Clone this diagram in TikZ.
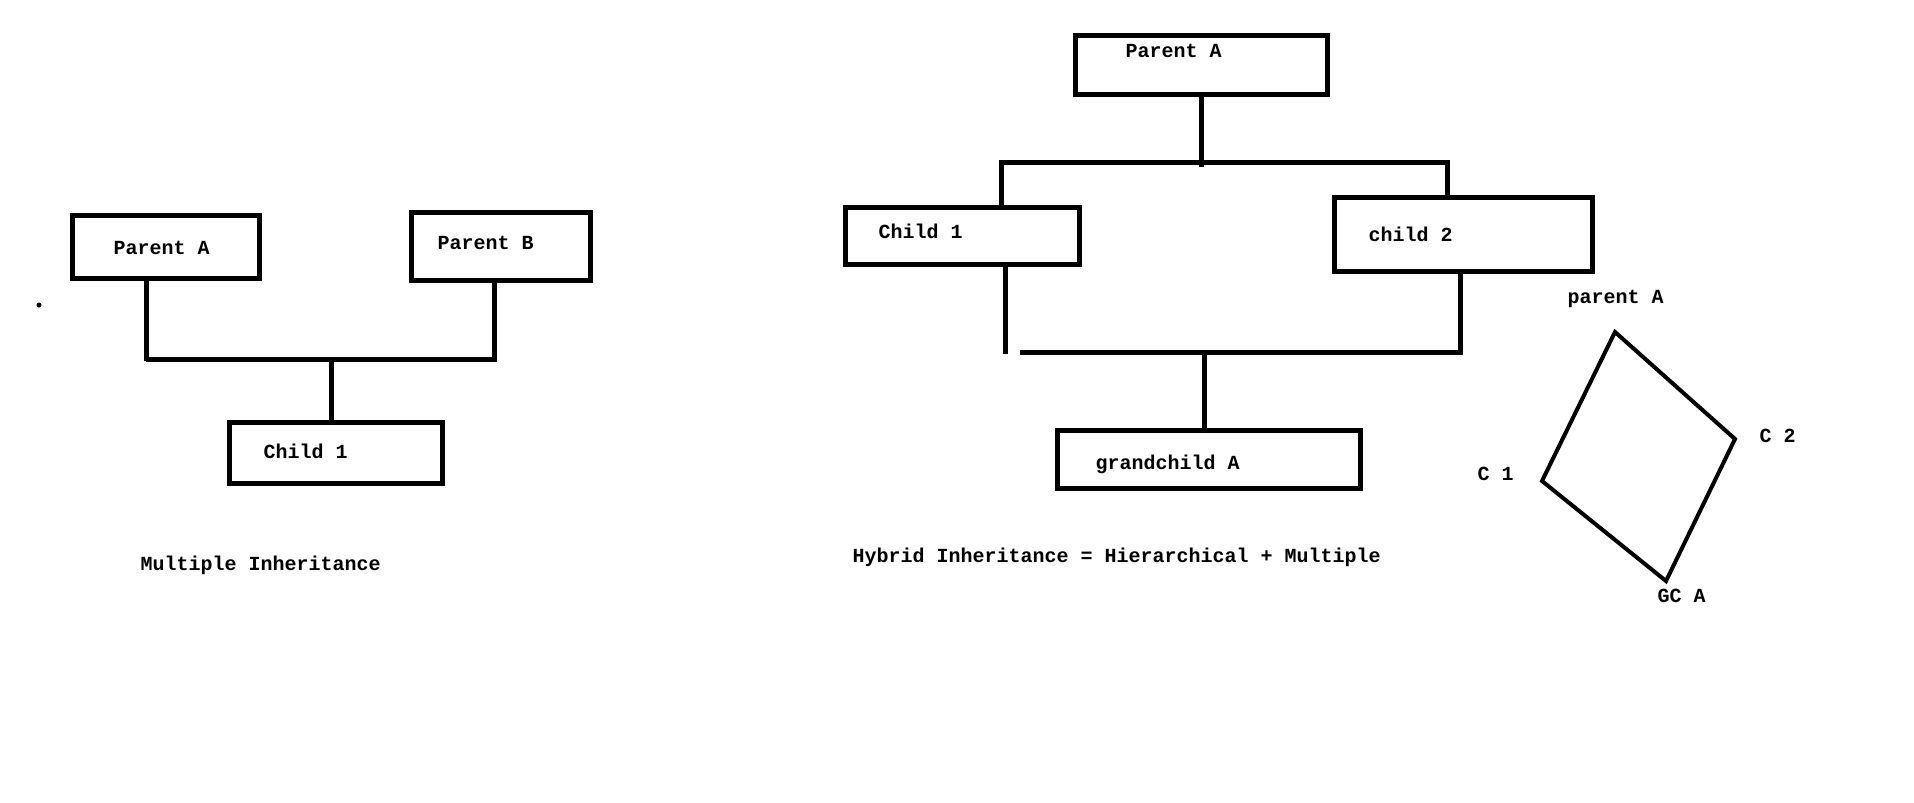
\documentclass[tikz,border=0pt]{standalone}
\usepackage{fontspec}
\setmainfont{Liberation Mono}
\begin{document}
\begin{tikzpicture}%
[x=1pt,y=-1pt,line width=5pt,
box/.style={draw, inner sep=0pt},%
txt/.style={font=\bfseries\fontsize{20}{20}\selectfont, anchor=west,
  inner sep=0pt, text height=11.4pt, text depth=0pt},%
thin/.style={line width=4pt}]

\useasboundingbox (0,0) rectangle (1914,803);

% multiple inheritance
\node[box, minimum width=187, minimum height=63] (lpa) at (165.5,246.5) {};
\node[box, minimum width=179, minimum height=68] (lpb) at (500.5,246) {};
\node[box, minimum width=213, minimum height=61] (lc1) at (335.5,452.5) {};
\node[txt] (lpat) at (111,249) {Parent A};
\node[txt] (lpbt) at (435,244) {Parent B};
\node[txt] (lc1t) at (261,453) {Child 1};
\node[txt] (mult) at (138,565) {Multiple Inheritance};
\fill (39,305) circle (2.5pt);

\coordinate (lj) at (331,359);
\draw (146,0 |- lpa.south) -- (146,361);
\draw (146,359) -- (494,359) -- (494,0 |- lpb.south);
\draw (lj) -- (lj |- lc1.north);

% hybrid inheritance
\node[box, minimum width=252, minimum height=59] (rpa) at (1201,64.5) {};
\node[box, minimum width=234, minimum height=57] (rc1) at (962,235.5) {};
\node[box, minimum width=258, minimum height=74] (rc2) at (1463,234) {};
\node[box, minimum width=303, minimum height=58] (rgc) at (1208.5,459) {};
\node[txt] (rpat) at (1123,52) {Parent A};
\node[txt] (rc1t) at (876,233) {Child 1};
\node[txt] (rc2t) at (1366,236) {child 2};
\node[txt] (rgct) at (1093,464) {grandchild A};
\node[txt] (hyb) at (850,557) {Hybrid Inheritance = Hierarchical + Multiple};

\coordinate (rj) at (1201,167);
\coordinate (gj) at (1204,352);
\draw (rpa.south -| rj) -- (rj);
\draw (1001,210) -- (1001,162) -- (1447,162) -- (1447,0 |- rc2.north);
\draw (1005,0 |- rc1.south) -- (1005,354);
\draw (1020,352) -- (1460,352) -- (1460,0 |- rc2.south);
\draw (gj) -- (gj |- rgc.north);

% diamond
\coordinate (dpa) at (1615,332);
\coordinate (dc2) at (1735,439);
\coordinate (dgc) at (1666,581);
\coordinate (dc1) at (1542,481);
\draw[thin] (dpa) -- (dc2) -- (dgc) -- (dc1) -- cycle;
\node[txt] (dpat) at (1565,298) {parent A};
\node[txt] (dc2t) at (1757,437) {C 2};
\node[txt] (dc1t) at (1475,475) {C 1};
\node[txt] (dgct) at (1655,597) {GC A};
\end{tikzpicture}
\end{document}
